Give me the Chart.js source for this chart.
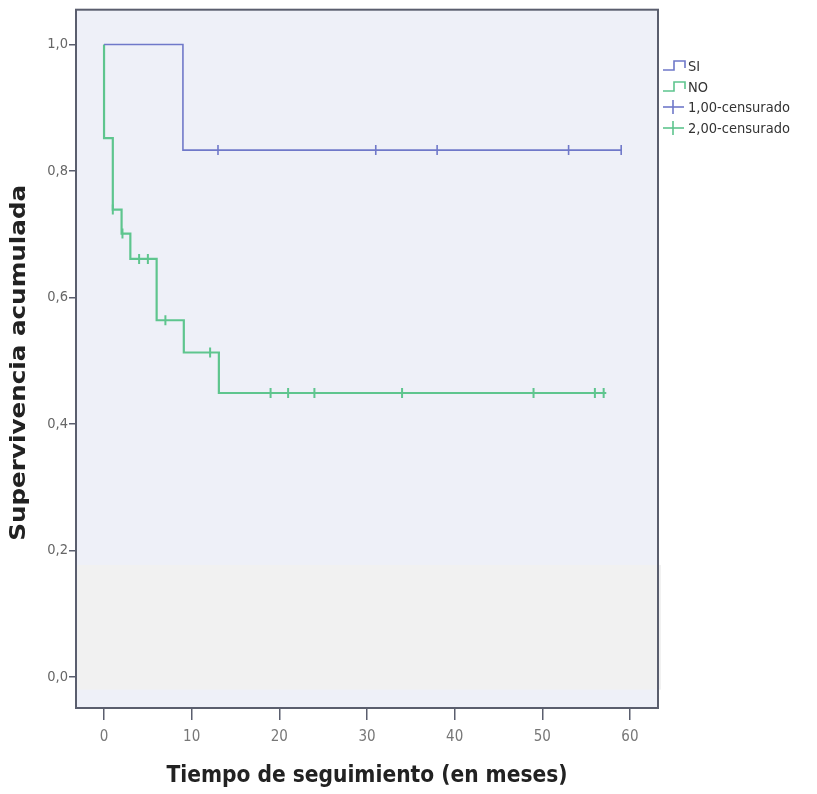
<!DOCTYPE html>
<html>
<head>
<meta charset="utf-8">
<script src="https://cdn.jsdelivr.net/npm/chart.js@4/dist/chart.umd.min.js"></script>
<style>
  body { margin: 0; background: #fff; }
  #wrap { position: relative; width: 817px; height: 794px; }
  #legend { position: absolute; left: 662px; top: 56px; font-family: "DejaVu Sans Condensed", "Liberation Sans Narrow", sans-serif; font-size: 14.5px; color: #333; line-height: 20.5px; }
  #legend div { display: flex; align-items: center; white-space: nowrap; }
  #legend svg { margin-right: 1px; }
</style>
</head>
<body>
<div id="wrap">
  <canvas id="km" width="817" height="794"></canvas>
  <div id="legend"></div>
</div>
<script>
// Kaplan-Meier curves
const siTimes = [0, 9, 59];
const siSurv = [1.0, 0.833, 0.833];
const siCensored = [13, 31, 38, 53, 59];

const noTimes = [0, 0, 1, 2, 3, 6, 9.1, 13.1, 57.3];
const noSurv = [1.0, 0.852, 0.739, 0.701, 0.661, 0.564, 0.513, 0.449, 0.449];
const noCensored = [1, 2.1, 4, 5, 7, 12.1, 19, 21, 24, 34, 49, 56, 57];

const yTicks = [0, 0.2, 0.4, 0.6, 0.8, 1.0];
const xTicks = [0, 10, 20, 30, 40, 50, 60];

const blue = "#6f78c9";
const green = "#5ec58e";

function stepAt(times, surv, t) {
  let s = surv[0];
  for (let i = 0; i < times.length; i++) {
    if (times[i] <= t) s = surv[i];
  }
  return s;
}

const toPts = (xs, ys) => xs.map((x, i) => ({ x: x, y: ys[i] }));
const censorPts = (cs, times, surv) => cs.map(t => ({ x: t, y: stepAt(times, surv, t) }));

const framePlugin = {
  id: "frame",
  beforeDatasetsDraw(chart) {
    const { ctx, chartArea: a, scales } = chart;
    ctx.save();
    ctx.fillStyle = "#eef0f8";
    ctx.fillRect(a.left, a.top, a.right - a.left, a.bottom - a.top);
    // washed out band in the scanned figure
    const y1 = scales.y.getPixelForValue(0.177);
    const y2 = scales.y.getPixelForValue(-0.02);
    ctx.fillStyle = "#f1f1f1";
    ctx.fillRect(a.left, y1, a.right - a.left + 3, y2 - y1);
    ctx.restore();
  },
  afterDraw(chart) {
    const { ctx, chartArea: a } = chart;
    ctx.save();
    ctx.strokeStyle = "#5a5e6e";
    ctx.lineWidth = 2;
    ctx.strokeRect(a.left, a.top, a.right - a.left, a.bottom - a.top);

    // y title, stretched like the scan
    const text = "Supervivencia acumulada";
    ctx.font = "bold 21px 'DejaVu Sans'";
    const w = ctx.measureText(text).width;
    const target = 356;
    ctx.translate(20, (a.top + a.bottom) / 2 + 4);
    ctx.rotate(-Math.PI / 2);
    ctx.scale(target / w, 1);
    ctx.fillStyle = "#222";
    ctx.textAlign = "center";
    ctx.textBaseline = "middle";
    ctx.fillText(text, 0, 0);
    ctx.restore();
  }
};

new Chart(document.getElementById("km"), {
  type: "scatter",
  data: {
    datasets: [
      {
        label: "SI",
        data: toPts(siTimes, siSurv),
        showLine: true,
        stepped: "before",
        borderColor: blue,
        borderWidth: 1.6,
        pointRadius: 0,
      },
      {
        label: "NO",
        data: toPts(noTimes, noSurv),
        showLine: true,
        stepped: "before",
        borderColor: green,
        borderWidth: 2.2,
        pointRadius: 0,
      },
      {
        label: "1,00-censurado",
        data: censorPts(siCensored, siTimes, siSurv),
        pointStyle: "line",
        rotation: 90,
        pointRadius: 5,
        borderColor: blue,
        borderWidth: 1.6,
      },
      {
        label: "2,00-censurado",
        data: censorPts(noCensored, noTimes, noSurv),
        pointStyle: "line",
        rotation: 90,
        pointRadius: 5,
        borderColor: green,
        borderWidth: 2,
      },
    ],
  },
  options: {
    responsive: false,
    animation: false,
    layout: { padding: { top: 7, right: 159, left: 0, bottom: 0 } },
    plugins: {
      legend: { display: false },
      tooltip: { enabled: false },
    },
    scales: {
      x: {
        type: "linear",
        min: -3.2,
        max: 63.2,
        afterBuildTicks: s => { s.ticks = xTicks.map(v => ({ value: v })); },
        afterFit: s => { s.height = 86; },
        grid: { drawOnChartArea: false, tickLength: 12, color: "#5a5e6e", lineWidth: 1.5 },
        border: { display: false },
        ticks: { color: "#777", font: { family: "DejaVu Sans Condensed", size: 15 }, padding: 8 },
        title: {
          display: true,
          text: "Tiempo de seguimiento (en meses)",
          color: "#222",
          font: { family: "DejaVu Sans Condensed", size: 22.5, weight: "bold" },
          padding: { top: 8 },
        },
      },
      y: {
        type: "linear",
        min: -0.049,
        max: 1.055,
        afterBuildTicks: s => { s.ticks = yTicks.map(v => ({ value: v })); },
        afterFit: s => { s.width = 76; },
        grid: { drawOnChartArea: false, tickLength: 7, color: "#5a5e6e", lineWidth: 1.5 },
        border: { display: false },
        ticks: {
          color: "#666",
          font: { family: "DejaVu Sans Condensed", size: 14.5 },
          padding: 1,
          callback: v => v.toFixed(1).replace(".", ","),
        },
        title: { display: false },
      },
    },
  },
  plugins: [framePlugin],
});

// legend built from the dataset colours
const legendItems = [
  { label: "SI", color: blue, kind: "step" },
  { label: "NO", color: green, kind: "step" },
  { label: "1,00-censurado", color: blue, kind: "cross" },
  { label: "2,00-censurado", color: green, kind: "cross" },
];
const legendEl = document.getElementById("legend");
legendItems.forEach(it => {
  const sym = it.kind === "step"
    ? '<polyline points="1,14 12,14 12,5 23,5 23,12" fill="none" stroke="' + it.color + '" stroke-width="1.6"/>'
    : '<line x1="1" y1="10" x2="22" y2="10" stroke="' + it.color + '" stroke-width="1.6"/><line x1="11" y1="3" x2="11" y2="17" stroke="' + it.color + '" stroke-width="1.6"/>';
  const row = document.createElement("div");
  row.innerHTML = '<svg width="25" height="20">' + sym + "</svg><span>" + it.label + "</span>";
  legendEl.appendChild(row);
});
</script>
</body>
</html>
